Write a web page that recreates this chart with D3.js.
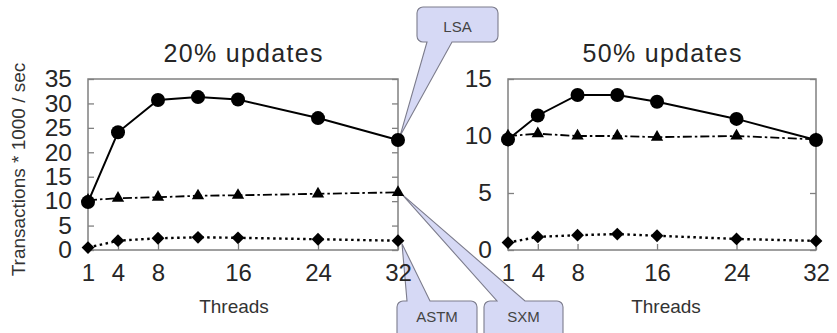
<!DOCTYPE html>
<html>
<head>
<meta charset="utf-8">
<script src="https://cdn.jsdelivr.net/npm/d3@7"></script>
<style>
  html, body { margin: 0; padding: 0; background: #fff; }
  svg { display: block; }
  svg text { font-family: "Liberation Sans", Arial, Helvetica, sans-serif; }
</style>
</head>
<body>
<svg id="chart" width="837" height="333"></svg>
<script>
// Throughput of three STM implementations vs. number of threads
const threads = [1, 4, 8, 12, 16, 24, 32];
const xTickValues = [1, 4, 8, 16, 24, 32];

const lsa20  = [9.8, 24.1, 30.7, 31.3, 30.8, 27.0, 22.5];
const sxm20  = [10.2, 10.6, 10.8, 11.1, 11.2, 11.5, 11.8];
const astm20 = [0.5, 1.9, 2.4, 2.6, 2.5, 2.2, 1.9];

const lsa50  = [9.7, 11.8, 13.6, 13.6, 13.0, 11.5, 9.65];
const sxm50  = [10.0, 10.2, 10.0, 10.0, 9.9, 10.0, 9.7];
const astm50 = [0.65, 1.15, 1.3, 1.4, 1.25, 0.97, 0.8];

const yTicks20 = [0, 5, 10, 15, 20, 25, 30, 35];
const yTicks50 = [0, 5, 10, 15];

const titles = ["20% updates", "50% updates"];
const xTitle = "Threads";
const yTitle = "Transactions * 1000 / sec";

const svg = d3.select("#chart");
const frameColor = "#808080";
const inkColor = "#262626";

const panels = [
  { title: titles[0], x0: 88, x1: 398, yMax: 35, yTicks: yTicks20,
    series: { lsa: lsa20, sxm: sxm20, astm: astm20 }, threadsX: 234 },
  { title: titles[1], x0: 508, x1: 816, yMax: 15, yTicks: yTicks50,
    series: { lsa: lsa50, sxm: sxm50, astm: astm50 }, threadsX: 666 }
];

const plotTop = 79, plotBottom = 250;

const styles = {
  astm: { dash: "2.5,3.5", width: 2.4, symbol: "diamond" },
  sxm:  { dash: "9,3,2.5,3", width: 1.8, symbol: "triangle" },
  lsa:  { dash: null, width: 2, symbol: "circle" }
};

const annotationLayer = svg.append("g");

panels.forEach(p => {
  const x = d3.scaleLinear().domain([1, 32]).range([p.x0, p.x1]);
  const y = d3.scaleLinear().domain([0, p.yMax]).range([plotBottom, plotTop]);
  p.x = x; p.y = y;
  const g = svg.append("g");

  // frame
  g.append("rect")
    .attr("x", p.x0).attr("y", plotTop)
    .attr("width", p.x1 - p.x0).attr("height", plotBottom - plotTop)
    .attr("fill", "none").attr("stroke", frameColor).attr("stroke-width", 1.5);

  // y ticks inside on both sides
  const yAxisL = d3.axisLeft(y).tickValues(p.yTicks).tickSize(-6).tickFormat(d3.format("d")).tickPadding(16);
  const gyl = g.append("g").attr("transform", `translate(${p.x0},0)`).call(yAxisL);
  const yAxisR = d3.axisRight(y).tickValues(p.yTicks).tickSize(-6).tickFormat("");
  const gyr = g.append("g").attr("transform", `translate(${p.x1},0)`).call(yAxisR);
  [gyl, gyr].forEach(a => {
    a.select(".domain").remove();
    a.selectAll(".tick line").attr("stroke", frameColor).attr("stroke-width", 1.3);
  });
  gyl.selectAll(".tick text")
    .attr("font-size", 24.5).attr("fill", inkColor);

  // x ticks pointing up from the bottom edge
  const xAxis = d3.axisBottom(x).tickValues(xTickValues).tickSize(-6).tickFormat(d3.format("d")).tickPadding(14);
  const gx = g.append("g").attr("transform", `translate(0,${plotBottom})`).call(xAxis);
  gx.select(".domain").remove();
  gx.selectAll(".tick line").attr("stroke", frameColor).attr("stroke-width", 1.3);
  gx.selectAll(".tick text")
    .attr("font-size", 24).attr("fill", inkColor);

  // panel title
  g.append("text")
    .attr("x", (p.x0 + p.x1) / 2).attr("y", 62)
    .attr("text-anchor", "middle").attr("font-size", 25)
    .attr("textLength", 159).attr("lengthAdjust", "spacing")
    .attr("fill", inkColor).text(p.title);

  // x axis title
  g.append("text")
    .attr("x", p.threadsX).attr("y", 313)
    .attr("text-anchor", "middle").attr("font-size", 19)
    .attr("fill", "#333").text(xTitle);
});

// y axis title
svg.append("text")
  .attr("transform", "translate(25,169.5) rotate(-90)")
  .attr("text-anchor", "middle").attr("font-size", 19)
  .attr("fill", "#333").text(yTitle);

// callout balloons
function callout(bx, by, w, h, r, side, b1, b2, tip) {
  const p = d3.path();
  if (side === "top") {
    p.moveTo(bx + r, by);
    p.lineTo(b1, by); p.lineTo(tip[0], tip[1]); p.lineTo(b2, by);
    p.lineTo(bx + w - r, by);
    p.arcTo(bx + w, by, bx + w, by + r, r);
    p.lineTo(bx + w, by + h - r);
    p.arcTo(bx + w, by + h, bx + w - r, by + h, r);
    p.lineTo(bx + r, by + h);
    p.arcTo(bx, by + h, bx, by + h - r, r);
    p.lineTo(bx, by + r);
    p.arcTo(bx, by, bx + r, by, r);
  } else {
    p.moveTo(bx + r, by);
    p.lineTo(bx + w - r, by);
    p.arcTo(bx + w, by, bx + w, by + r, r);
    p.lineTo(bx + w, by + h - r);
    p.arcTo(bx + w, by + h, bx + w - r, by + h, r);
    p.lineTo(b2, by + h); p.lineTo(tip[0], tip[1]); p.lineTo(b1, by + h);
    p.lineTo(bx + r, by + h);
    p.arcTo(bx, by + h, bx, by + h - r, r);
    p.lineTo(bx, by + r);
    p.arcTo(bx, by, bx + r, by, r);
  }
  p.closePath();
  return p.toString();
}

const L = panels[0];
const last = threads.length - 1;
const balloons = [
  { label: "LSA",  box: [417, 7, 81, 35], side: "bottom", base: [427, 452],
    tip: [L.x(threads[last]) + 2, L.y(lsa20[last]) - 4] },
  { label: "ASTM", box: [397, 301, 80, 40], side: "top", base: [407, 430],
    tip: [L.x(threads[last]) + 4, L.y(astm20[last]) + 3] },
  { label: "SXM",  box: [484, 301, 79, 40], side: "top", base: [497, 525],
    tip: [L.x(threads[last]) + 4, L.y(sxm20[last]) + 2] }
];

balloons.forEach(b => {
  const [bx, by, w, h] = b.box;
  annotationLayer.append("path")
    .attr("d", callout(bx, by, w, h, 6, b.side, b.base[0], b.base[1], b.tip))
    .attr("fill", "#d6d9f5").attr("stroke", "#7c7c8c").attr("stroke-width", 1.1);
  annotationLayer.append("text")
    .attr("x", bx + w / 2).attr("y", b.side === "top" ? by + 21 : by + 25)
    .attr("text-anchor", "middle").attr("font-size", 15)
    .attr("fill", "#444").text(b.label);
});

// series lines and markers
const diamond = d3.symbol().type(d3.symbolSquare).size(82)();
const triangle = d3.symbol().type(d3.symbolTriangle).size(66)();

panels.forEach(p => {
  const g = svg.append("g");
  ["astm", "sxm", "lsa"].forEach(key => {
    const vals = p.series[key];
    const st = styles[key];
    const pts = threads.map((t, i) => [p.x(t), p.y(vals[i])]);
    g.append("path")
      .attr("d", d3.line()(pts))
      .attr("fill", "none").attr("stroke", "#000")
      .attr("stroke-width", st.width)
      .attr("stroke-dasharray", st.dash);
  });
  ["astm", "sxm", "lsa"].forEach(key => {
    const vals = p.series[key];
    const st = styles[key];
    threads.forEach((t, i) => {
      const cx = p.x(t), cy = p.y(vals[i]);
      if (st.symbol === "circle") {
        g.append("circle").attr("cx", cx).attr("cy", cy).attr("r", 7).attr("fill", "#000");
      } else if (st.symbol === "triangle") {
        g.append("path").attr("d", triangle)
          .attr("transform", `translate(${cx},${cy})`).attr("fill", "#000");
      } else {
        g.append("path").attr("d", diamond)
          .attr("transform", `translate(${cx},${cy}) rotate(45)`).attr("fill", "#000");
      }
    });
  });
});
</script>
</body>
</html>
